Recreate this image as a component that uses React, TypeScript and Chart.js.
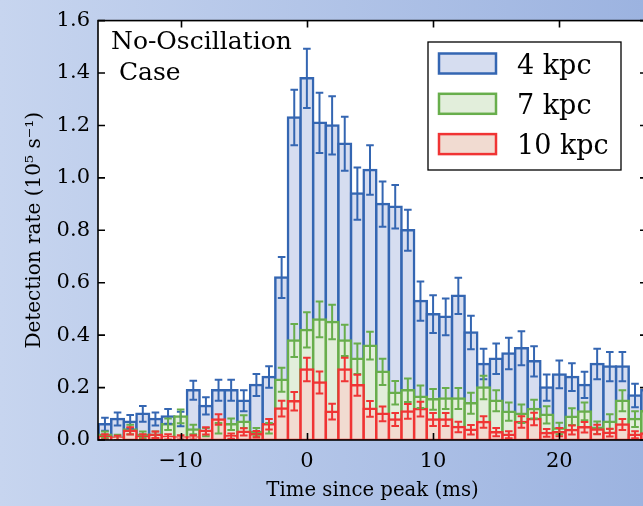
import React, { useEffect, useRef } from 'react';
import { Chart, registerables } from 'chart.js';

Chart.register(...registerables);

// ---- data ----
const BIN_CENTERS = [
  -16, -15, -14, -13, -12, -11, -10, -9, -8, -7, -6, -5, -4, -3, -2, -1,
  0, 1, 2, 3, 4, 5, 6, 7, 8, 9, 10, 11, 12, 13, 14, 15, 16, 17, 18, 19,
  20, 21, 22, 23, 24, 25, 26, 27,
];

const RATE_4KPC = [
  0.06, 0.08, 0.07, 0.10, 0.08, 0.09, 0.08, 0.19, 0.13, 0.19, 0.19, 0.15, 0.21, 0.24, 0.62, 1.23,
  1.38, 1.21, 1.20, 1.13, 0.94, 1.03, 0.90, 0.89, 0.80, 0.53, 0.48, 0.47, 0.55, 0.41, 0.29, 0.31,
  0.33, 0.35, 0.30, 0.20, 0.25, 0.24, 0.21, 0.29, 0.28, 0.28, 0.17, 0.19,
];
const ERR_4KPC = [
  0.025, 0.025, 0.025, 0.03, 0.025, 0.028, 0.028, 0.036, 0.033, 0.04, 0.04, 0.04, 0.042, 0.041, 0.078, 0.106,
  0.113, 0.115, 0.111, 0.103, 0.10, 0.094, 0.086, 0.083, 0.078, 0.075, 0.072, 0.07, 0.069, 0.064, 0.058, 0.058,
  0.06, 0.065, 0.058, 0.05, 0.053, 0.053, 0.05, 0.058, 0.056, 0.056, 0.045, 0.048,
];

const RATE_7KPC = [
  0.02, 0.01, 0.04, 0.02, 0.02, 0.06, 0.09, 0.04, 0.03, 0.045, 0.06, 0.07, 0.03, 0.045, 0.23, 0.38,
  0.42, 0.46, 0.45, 0.38, 0.31, 0.36, 0.26, 0.18, 0.19, 0.165, 0.155, 0.158, 0.158, 0.14, 0.20, 0.15,
  0.108, 0.10, 0.118, 0.096, 0.044, 0.089, 0.109, 0.047, 0.07, 0.15, 0.08, 0.11,
];
const ERR_7KPC = [
  0.012, 0.01, 0.018, 0.012, 0.012, 0.022, 0.026, 0.018, 0.016, 0.02, 0.022, 0.024, 0.016, 0.02, 0.046, 0.063,
  0.067, 0.068, 0.066, 0.06, 0.058, 0.053, 0.05, 0.045, 0.045, 0.043, 0.04, 0.04, 0.04, 0.04, 0.045, 0.04,
  0.035, 0.035, 0.036, 0.033, 0.022, 0.032, 0.034, 0.024, 0.028, 0.04, 0.03, 0.033,
];

const RATE_10KPC = [
  0.012, 0.008, 0.035, 0.012, 0.02, 0.012, 0.01, 0.01, 0.035, 0.078, 0.015, 0.031, 0.022, 0.06, 0.12, 0.148,
  0.269, 0.219, 0.108, 0.269, 0.209, 0.119, 0.10, 0.078, 0.109, 0.118, 0.078, 0.078, 0.05, 0.039, 0.069, 0.03,
  0.02, 0.069, 0.08, 0.027, 0.03, 0.038, 0.049, 0.04, 0.028, 0.059, 0.02, 0.025,
];
const ERR_10KPC = [
  0.01, 0.008, 0.014, 0.01, 0.012, 0.01, 0.008, 0.008, 0.014, 0.02, 0.01, 0.014, 0.012, 0.02, 0.03, 0.035,
  0.045, 0.042, 0.03, 0.045, 0.04, 0.03, 0.028, 0.025, 0.028, 0.028, 0.025, 0.025, 0.02, 0.018, 0.022, 0.016,
  0.013, 0.022, 0.024, 0.015, 0.016, 0.017, 0.02, 0.018, 0.015, 0.021, 0.013, 0.014,
];

const SERIES_LABELS = ['4 kpc', '7 kpc', '10 kpc'];
const X_TICKS = [-10, 0, 10, 20];
const Y_TICKS = [0, 0.2, 0.4, 0.6, 0.8, 1.0, 1.2, 1.4, 1.6];
const X_MIN = -16.55;
const X_MAX = 26.95;
const Y_MIN = 0;
const Y_MAX = 1.6;
const X_TITLE = 'Time since peak (ms)';
const Y_TITLE = 'Detection rate (10\u2075 s\u207B\u00B9)';
const ANNOTATION = ['No-Oscillation', ' Case'];

// ---- styles ----
const FONT = "'DejaVu Serif', serif";
const STYLES = [
  { edge: '#3466b2', fill: '#d6ddf0' },
  { edge: '#68ae4c', fill: '#e2eedb' },
  { edge: '#f03434', fill: '#f1dbd1' },
];

const SERIES = [
  { label: SERIES_LABELS[0], values: RATE_4KPC, errors: ERR_4KPC, ...STYLES[0] },
  { label: SERIES_LABELS[1], values: RATE_7KPC, errors: ERR_7KPC, ...STYLES[1] },
  { label: SERIES_LABELS[2], values: RATE_10KPC, errors: ERR_10KPC, ...STYLES[2] },
];

const decorPlugin = {
  id: 'decor',
  beforeDraw(chart: any) {
    const { ctx, chartArea: a } = chart;
    ctx.save();
    ctx.fillStyle = '#ffffff';
    ctx.fillRect(a.left, a.top, a.right - a.left, a.bottom - a.top);
    ctx.restore();
  },
  afterDatasetsDraw(chart: any) {
    const { ctx, chartArea: a, scales } = chart;
    const xs = scales.x;
    const ys = scales.y;

    // error bars
    ctx.save();
    ctx.beginPath();
    ctx.rect(a.left, a.top, a.right - a.left, a.bottom - a.top);
    ctx.clip();
    SERIES.forEach((s, i) => {
      const meta = chart.getDatasetMeta(i);
      ctx.strokeStyle = s.edge;
      ctx.lineWidth = 2;
      meta.data.forEach((bar: any, j: number) => {
        const v = s.values[j];
        const e = s.errors[j];
        const px = bar.x;
        const yt = ys.getPixelForValue(v + e);
        const yb = ys.getPixelForValue(v - e);
        ctx.beginPath();
        ctx.moveTo(px, yt);
        ctx.lineTo(px, yb);
        ctx.moveTo(px - 3.8, yt);
        ctx.lineTo(px + 3.8, yt);
        ctx.moveTo(px - 3.8, yb);
        ctx.lineTo(px + 3.8, yb);
        ctx.stroke();
      });
    });
    ctx.restore();

    // spines and inward ticks
    ctx.save();
    ctx.strokeStyle = '#000';
    ctx.lineWidth = 1.6;
    ctx.strokeRect(a.left, a.top, a.right - a.left, a.bottom - a.top);
    ctx.beginPath();
    X_TICKS.forEach((t) => {
      const px = Math.round(xs.getPixelForValue(t)) + 0.5;
      ctx.moveTo(px, a.bottom);
      ctx.lineTo(px, a.bottom - 7);
      ctx.moveTo(px, a.top);
      ctx.lineTo(px, a.top + 7);
    });
    Y_TICKS.forEach((t) => {
      const py = ys.getPixelForValue(t);
      ctx.moveTo(a.left, py);
      ctx.lineTo(a.left + 7, py);
      ctx.moveTo(a.right, py);
      ctx.lineTo(a.right - 7, py);
    });
    ctx.stroke();
    ctx.restore();

    // legend
    ctx.save();
    const lx = 428, ly = 42, lw = 193, lh = 128;
    ctx.fillStyle = '#fff';
    ctx.fillRect(lx, ly, lw, lh);
    ctx.strokeStyle = '#000';
    ctx.lineWidth = 1.3;
    ctx.strokeRect(lx, ly, lw, lh);
    ctx.font = `27px ${FONT}`;
    ctx.textBaseline = 'alphabetic';
    ctx.textAlign = 'left';
    SERIES.forEach((s, i) => {
      const base = 73.5 + i * 40.3;
      ctx.fillStyle = s.fill;
      ctx.fillRect(439, base - 20, 57, 20);
      ctx.strokeStyle = s.edge;
      ctx.lineWidth = 2.5;
      ctx.strokeRect(439, base - 20, 57, 20);
      ctx.fillStyle = '#000';
      ctx.fillText(s.label, 517, base);
    });
    ctx.restore();

    // annotation
    ctx.save();
    ctx.font = `25px ${FONT}`;
    ctx.fillStyle = '#000';
    ctx.textBaseline = 'alphabetic';
    ANNOTATION.forEach((line, i) => {
      ctx.fillText(line, 111, 48.5 + i * 31.7);
    });
    ctx.restore();
  },
};

export default function App() {
  const ref = useRef<HTMLCanvasElement | null>(null);

  useEffect(() => {
    if (!ref.current) return;
    const chart = new Chart(ref.current, {
      type: 'bar',
      data: {
        datasets: SERIES.map((s, i) => ({
          label: s.label,
          data: BIN_CENTERS.map((c, j) => ({ x: c, y: s.values[j] })),
          backgroundColor: s.fill,
          borderColor: s.edge,
          borderWidth: 2.5,
          borderSkipped: false,
          inflateAmount: 1.25,
          barPercentage: 1,
          categoryPercentage: 1,
          grouped: false,
          order: 3 - i,
        })),
      },
      options: {
        responsive: false,
        animation: false,
        devicePixelRatio: 1,
        layout: { padding: { top: 14, right: 1, left: 0, bottom: 0 } },
        plugins: {
          legend: { display: false },
          tooltip: { enabled: false },
        },
        scales: {
          x: {
            type: 'linear',
            min: X_MIN,
            max: X_MAX,
            offset: false,
            grid: { display: false, drawTicks: false },
            border: { display: false },
            ticks: {
              includeBounds: false,
              autoSkip: false,
              maxRotation: 0,
              padding: 9,
              color: '#000',
              font: { family: FONT, size: 21 },
              callback: (v: any) => (Number(v) < 0 ? '\u2212' + Math.abs(Number(v)) : String(v)),
            },
            afterBuildTicks: (s: any) => {
              s.ticks = X_TICKS.map((v) => ({ value: v }));
            },
            afterFit: (s: any) => {
              s.height = 66;
            },
            title: {
              display: true,
              text: X_TITLE,
              color: '#000',
              font: { family: FONT, size: 19.7 },
              padding: { top: 0, bottom: 3 },
            },
          },
          y: {
            type: 'linear',
            min: Y_MIN,
            max: Y_MAX,
            grid: { display: false, drawTicks: false },
            border: { display: false },
            ticks: {
              autoSkip: false,
              padding: 8,
              color: '#000',
              font: { family: FONT, size: 21 },
              callback: (v: any) => Number(v).toFixed(1),
            },
            afterBuildTicks: (s: any) => {
              s.ticks = Y_TICKS.map((v) => ({ value: v }));
            },
            afterFit: (s: any) => {
              s.width = 98;
            },
            title: {
              display: true,
              text: Y_TITLE,
              color: '#000',
              font: { family: FONT, size: 20 },
              padding: { top: 23, bottom: 0 },
            },
          },
        },
      },
      plugins: [decorPlugin],
    } as any);
    return () => chart.destroy();
  }, []);

  return (
    <div
      style={{
        position: 'fixed',
        left: 0,
        top: 0,
        width: 643,
        height: 506,
        overflow: 'hidden',
        background: 'linear-gradient(to right, #c7d5ef, #9cb3e0)',
      }}
    >
      <canvas ref={ref} width={648} height={506} style={{ display: 'block' }} />
    </div>
  );
}
